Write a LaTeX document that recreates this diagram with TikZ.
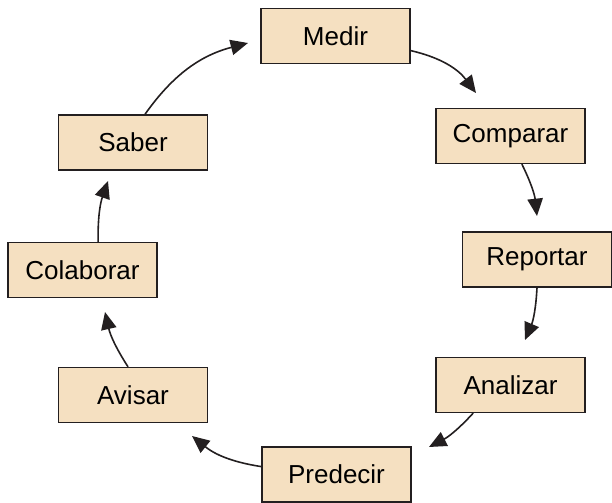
\documentclass[tikz,border=0pt]{standalone}
\usepackage{fontspec}
\setmainfont{Liberation Sans}
\usetikzlibrary{arrows.meta}
\definecolor{pasofill}{RGB}{245,224,193}
\definecolor{pasoline}{RGB}{35,31,32}

\begin{document}
\begin{tikzpicture}[x=0.75pt,y=0.75pt,yscale=-1,xscale=1,
    paso/.style={draw=pasoline,fill=pasofill,line width=1.2pt,minimum width=112pt,minimum height=41pt,inner sep=0pt,font=\fontsize{19.5}{23}\selectfont},
    flecha/.style={draw=pasoline,line width=1.2pt,-{Triangle[length=13pt,width=11.5pt]}}]
    \useasboundingbox (0,0) rectangle (612,503);

    % Boxes
    \node[paso] (medir) at (335.5,36) {Medir};
    \node[paso] (comparar) at (510.5,136) {Comparar};
    \node[paso] (reportar) at (537,259.5) {Reportar};
    \node[paso] (analizar) at (510.5,385) {Analizar};
    \node[paso] (predecir) at (336.5,474.5) {Predecir};
    \node[paso] (avisar) at (133,395) {Avisar};
    \node[paso] (colaborar) at (82.5,270) {Colaborar};
    \node[paso] (saber) at (133,142.5) {Saber};

    % Arrow tips (free ends)
    \coordinate (t1) at (476,93);
    \coordinate (t2) at (537,216);
    \coordinate (t3) at (525,340);
    \coordinate (t4) at (429,447);
    \coordinate (t5) at (192,436);
    \coordinate (t6) at (105,312);
    \coordinate (t7) at (108,181);
    \coordinate (t8) at (248,43);

    % Arrows
    \draw[flecha] (medir.-11) to[bend right=20] (t1);
    \draw[flecha] (comparar.-68) to[bend right=10] (t2);
    \draw[flecha] (reportar.south) to[bend right=10] (t3);
    \draw[flecha] (analizar.-143) to[bend right=10] (t4);
    \draw[flecha] (predecir.174) to[bend right=15] (t5);
    \draw[flecha] (avisar.100) to[bend right=10] (t6);
    \draw[flecha] (colaborar.61) to[bend right=10] (t7);
    \draw[flecha] (saber.67) to[bend right=20] (t8);

\end{tikzpicture}
\end{document}
